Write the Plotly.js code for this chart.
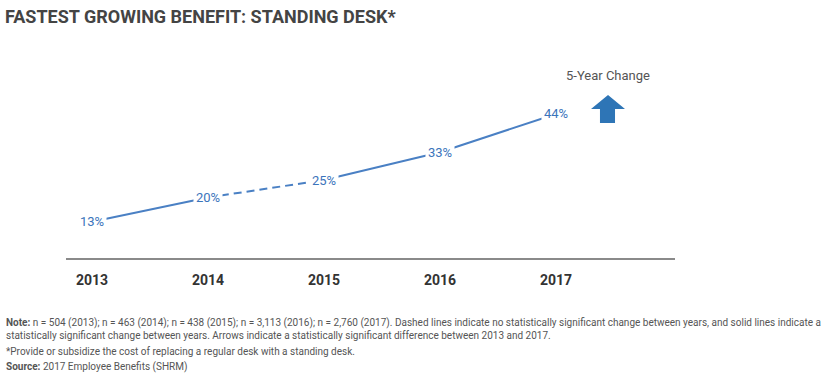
<!DOCTYPE html>
<html><head><meta charset="utf-8">
<script src="https://cdn.plot.ly/plotly-3.0.1.min.js"></script>
<style>body{margin:0;background:#fff}#c{width:830px;height:377px}</style>
</head><body><div id="c"></div>
<script>
const years = [2013, 2014, 2015, 2016, 2017];
const values = [13, 20, 25, 33, 44];
const valueLabels = ['13%', '20%', '25%', '33%', '44%'];
const segmentDash = ['solid', '8px,5px', 'solid', 'solid'];
const titleText = 'FASTEST GROWING BENEFIT: STANDING DESK*';
const changeLabel = '5-Year Change';
const noteLines = [
  '<b>Note:</b> n = 504 (2013); n = 463 (2014); n = 438 (2015); n = 3,113 (2016); n = 2,760 (2017). Dashed lines indicate no statistically significant change between years, and solid lines indicate a',
  'statistically significant change between years. Arrows indicate a statistically significant difference between 2013 and 2017.',
  '*Provide or subsidize the cost of replacing a regular desk with a standing desk.',
  '<b>Source:</b> 2017 Employee Benefits (SHRM)'
];

const blue = '#4a80c4';
const traces = segmentDash.map((d, i) => ({
  x: [years[i], years[i+1]], y: [values[i], values[i+1]],
  mode: 'lines', line: {color: blue, width: 2, dash: d},
  hoverinfo: 'skip', showlegend: false
}));

const plotTop = 60, plotBottom = 258;
const py = p => (plotBottom - p) / (plotBottom - plotTop);
const px = v => (v - 66) / 609;
const annotations = years.map((yr, i) => ({
  x: yr, y: values[i], xref: 'x', yref: 'y', text: valueLabels[i], showarrow: false,
  xanchor: 'center', yanchor: 'middle',
  font: {family: 'Roboto, Arial', size: 13, color: '#3b74bb'}, bgcolor: '#ffffff', borderpad: 2
}));
annotations.push({xref: 'paper', yref: 'paper', x: px(608), y: py(75), xanchor: 'center', yanchor: 'middle',
  text: changeLabel, showarrow: false, font: {family: 'Roboto, Arial', size: 13, color: '#555555'}});
const noteY = [323, 335, 351, 367];
noteLines.forEach((t, i) => annotations.push({xref: 'paper', yref: 'paper', x: px(4), y: py(noteY[i]),
  xanchor: 'left', yanchor: 'middle', text: t, showarrow: false,
  font: {family: 'Roboto, Arial', size: 10, color: '#555555'}}));

const arrowPath = () => {
  const pts = [[608,95],[625,109],[615,109],[615,123],[600,123],[600,109],[591,109]];
  return 'M ' + pts.map(p => px(p[0]).toFixed(4) + ',' + py(p[1]).toFixed(4)).join(' L ') + ' Z';
};

const layout = {
  width: 830, height: 377,
  margin: {l: 66, r: 155, t: plotTop, b: 377 - plotBottom},
  paper_bgcolor: '#fff', plot_bgcolor: '#fff',
  title: {text: '<b>' + titleText + '</b>', x: 0.006, xanchor: 'left', y: 0.955, yanchor: 'middle',
    font: {family: 'Roboto, Arial, sans-serif', size: 18, color: '#444444'}},
  xaxis: {range: [2012.776, 2018.026], tickvals: years, ticktext: years.map(String),
    showgrid: false, zeroline: false, showline: true, linecolor: '#8a8a8a', linewidth: 2,
    ticks: 'outside', ticklen: 8, tickcolor: 'rgba(0,0,0,0)',
    tickfont: {family: 'Roboto, Arial, sans-serif', size: 14, color: '#333333', weight: 'bold'}},
  yaxis: {range: [2.6, 59.5], visible: false, showgrid: false, zeroline: false},
  annotations: annotations,
  shapes: [{type: 'path', xref: 'paper', yref: 'paper', path: arrowPath(), fillcolor: '#2e75b6', line: {width: 0}}]
};
Plotly.newPlot('c', traces, layout, {displayModeBar: false, staticPlot: true});
</script></body></html>
